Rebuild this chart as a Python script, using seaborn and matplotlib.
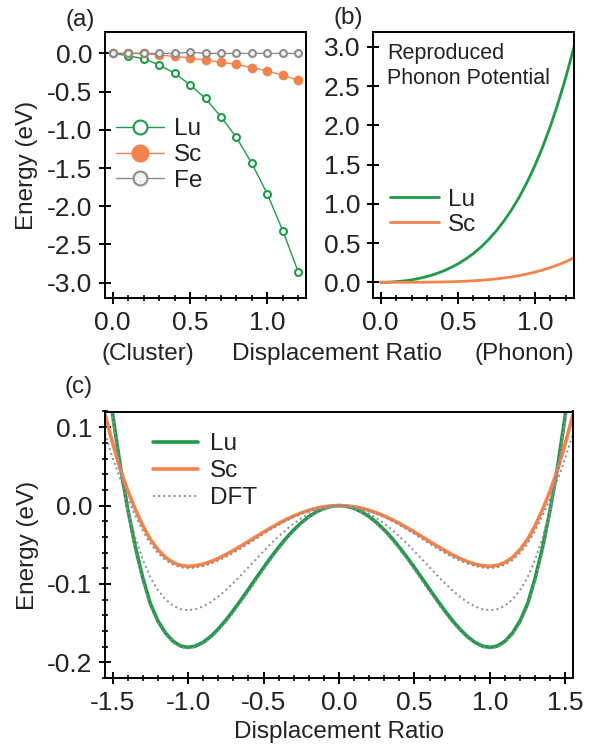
import numpy as np
import pandas as pd
import matplotlib
matplotlib.use('Agg')
import matplotlib.pyplot as plt
from matplotlib.ticker import MultipleLocator
import seaborn as sns

# %% data
# (a) cluster energies vs displacement ratio
x_a = [0.0, 0.1, 0.2, 0.3, 0.4, 0.5, 0.6, 0.7, 0.8, 0.9, 1.0, 1.1, 1.2]
lu_a = [0.0, -0.03, -0.07, -0.15, -0.26, -0.41, -0.59, -0.83, -1.10, -1.44, -1.84, -2.32, -2.86]
sc_a = [0.0, 0.0, 0.0, -0.02, -0.04, -0.06, -0.09, -0.115, -0.145, -0.185, -0.23, -0.285, -0.35]
fe_a = [0.0, 0.0, 0.0, 0.0, 0.0, 0.015, 0.0, 0.0, 0.0, 0.0, 0.0, 0.0, 0.0]

# (b) reproduced phonon potential
x_b = [0.0, 0.05, 0.1, 0.15, 0.2, 0.25, 0.3, 0.35, 0.4, 0.45, 0.5, 0.55, 0.6, 0.65,
       0.7, 0.75, 0.8, 0.85, 0.9, 0.95, 1.0, 1.05, 1.1, 1.15, 1.2, 1.25, 1.27]
lu_b = [0.0, 0.002, 0.008, 0.017, 0.031, 0.050, 0.074, 0.103, 0.139, 0.183, 0.234, 0.295,
        0.366, 0.449, 0.546, 0.657, 0.784, 0.929, 1.093, 1.280, 1.490, 1.726, 1.990, 2.286,
        2.613, 2.977, 3.14]
sc_b = [0.0, 0.0, 0.0002, 0.0003, 0.0006, 0.0011, 0.0019, 0.003, 0.0047, 0.0069, 0.010,
        0.014, 0.0192, 0.0256, 0.0337, 0.0436, 0.0556, 0.0698, 0.0868, 0.1067, 0.130,
        0.157, 0.188, 0.223, 0.263, 0.309, 0.328]

# (c) double-well potential, x >= 0 half (the curves are symmetric)
x_c = [0.0, 0.05, 0.1, 0.15, 0.2, 0.25, 0.3, 0.35, 0.4, 0.45, 0.5, 0.55, 0.6, 0.65,
       0.7, 0.75, 0.8, 0.85, 0.9, 0.95, 1.0, 1.05, 1.1, 1.15, 1.2, 1.25, 1.3, 1.35,
       1.4, 1.45, 1.5, 1.55]
lu_c = [0.0, -0.0009, -0.0036, -0.0081, -0.0142, -0.0219, -0.0311, -0.0416, -0.0533,
        -0.0659, -0.0792, -0.0929, -0.1069, -0.1206, -0.1339, -0.1464, -0.1575, -0.1671,
        -0.1745, -0.1793, -0.181, -0.1791, -0.1730, -0.1625, -0.1470, -0.1250, -0.0920,
        -0.0520, -0.0040, 0.052, 0.117, 0.19]
sc_c = [0.0, -0.0004, -0.0015, -0.0034, -0.0061, -0.0094, -0.0133, -0.0178, -0.0228,
        -0.0282, -0.0339, -0.0398, -0.0458, -0.0517, -0.0573, -0.0627, -0.0675, -0.0715,
        -0.0747, -0.0768, -0.0775, -0.0763, -0.0725, -0.0660, -0.0560, -0.0430, -0.0255,
        -0.0045, 0.0195, 0.047, 0.080, 0.116]
dft_lu_c = [0.0, -0.0011, -0.0042, -0.0090, -0.0155, -0.0235, -0.0330, -0.0438, -0.0558,
            -0.0687, -0.0822, -0.0960, -0.1100, -0.1236, -0.1367, -0.1489, -0.1597, -0.1690,
            -0.1760, -0.1805, -0.1822, -0.1805, -0.1748, -0.1648, -0.1498, -0.1285, -0.0960,
            -0.0565, -0.0085, 0.047, 0.112, 0.185]
dft_mid_c = [0.0, -0.0007, -0.0027, -0.0059, -0.0105, -0.0162, -0.0229, -0.0307, -0.0393,
             -0.0486, -0.0584, -0.0686, -0.0788, -0.0890, -0.0988, -0.1079, -0.1162, -0.1232,
             -0.1287, -0.1322, -0.1335, -0.1321, -0.1276, -0.1196, -0.1077, -0.0913, -0.0690,
             -0.0400, -0.0040, 0.045, 0.108, 0.18]
dft_sc_c = [0.0, -0.0005, -0.0018, -0.0039, -0.0068, -0.0104, -0.0146, -0.0194, -0.0247,
            -0.0304, -0.0364, -0.0426, -0.0488, -0.0548, -0.0605, -0.0657, -0.0704, -0.0742,
            -0.0773, -0.0792, -0.0799, -0.0789, -0.0754, -0.0695, -0.0606, -0.0485, -0.0320,
            -0.0125, 0.0095, 0.034, 0.061, 0.092]

green = '#1e9a48'
orange = '#f3834c'
gray = '#8c8c8c'
fs = 17.5   # text size
ts = 19     # tick label size


def mirror(x, y):
    """full symmetric curve from the x >= 0 half"""
    xs = np.concatenate([-np.array(x[:0:-1]), np.array(x)])
    ys = np.concatenate([np.array(y[:0:-1]), np.array(y)])
    return xs, ys


def style_axis(ax, xpad=5):
    for sp in ax.spines.values():
        sp.set_linewidth(1.4)
        sp.set_color('black')
    ax.tick_params(which='major', direction='inout', length=8, width=1.4,
                   labelsize=ts, top=False, right=False, pad=5)
    ax.tick_params(axis='x', which='major', pad=xpad)
    ax.tick_params(which='minor', direction='inout', length=5, width=1.2,
                   top=False, right=False)


# %% setup
sns.set_style('ticks')
plt.rcParams['font.family'] = ['Liberation Sans', 'DejaVu Sans']
plt.rcParams['axes.unicode_minus'] = False
plt.rcParams['text.color'] = '#222222'
plt.rcParams['xtick.color'] = 'black'
plt.rcParams['ytick.color'] = 'black'
plt.rcParams['xtick.labelcolor'] = '#222222'
plt.rcParams['ytick.labelcolor'] = '#222222'

fig = plt.figure(figsize=(5.94, 7.44), dpi=100)
W, H = 594, 744
ax_a = fig.add_axes([105 / W, 1 - 298 / H, 201 / W, 266 / H])
ax_b = fig.add_axes([373 / W, 1 - 298 / H, 201 / W, 266 / H])
ax_c = fig.add_axes([105 / W, 1 - 678 / H, 468 / W, 266.5 / H])

# %% panel (a)
df_a = pd.DataFrame({'x': x_a, 'Lu': lu_a, 'Sc': sc_a, 'Fe': fe_a})
sns.lineplot(data=df_a, x='x', y='Lu', ax=ax_a, color=green, lw=1.0, marker='o',
             markersize=5, markerfacecolor='white', markeredgecolor=green,
             markeredgewidth=1.5, label='Lu')
sns.lineplot(data=df_a, x='x', y='Sc', ax=ax_a, color=orange, lw=1.0, marker='o',
             markersize=6, markerfacecolor=orange, markeredgecolor=orange,
             markeredgewidth=1.0, label='Sc')
sns.lineplot(data=df_a, x='x', y='Fe', ax=ax_a, color=gray, lw=1.0, marker='o',
             markersize=5, markerfacecolor='#f2f2f2', markeredgecolor=gray,
             markeredgewidth=1.5, label='Fe')
ax_a.set(xlim=(-0.05, 1.25), ylim=(-3.2, 0.28), xlabel='', ylabel='')
ax_a.xaxis.set_major_locator(MultipleLocator(0.5))
ax_a.xaxis.set_minor_locator(MultipleLocator(0.1))
ax_a.yaxis.set_major_locator(MultipleLocator(0.5))
style_axis(ax_a)
ax_a.legend(loc='upper left', bbox_to_anchor=(-0.02, 0.73), frameon=False, fontsize=fs,
            markerscale=2.0, handlelength=2.0, handletextpad=0.4, labelspacing=0.15,
            borderaxespad=0.2)

# %% panel (b)
df_b = pd.DataFrame({'x': x_b, 'Lu': lu_b, 'Sc': sc_b})
sns.lineplot(data=df_b, x='x', y='Lu', ax=ax_b, color=green, lw=2.0, label='Lu')
sns.lineplot(data=df_b, x='x', y='Sc', ax=ax_b, color=orange, lw=2.0, label='Sc')
ax_b.set(xlim=(-0.05, 1.253), ylim=(-0.2, 3.19), xlabel='', ylabel='')
ax_b.xaxis.set_major_locator(MultipleLocator(0.5))
ax_b.xaxis.set_minor_locator(MultipleLocator(0.1))
ax_b.yaxis.set_major_locator(MultipleLocator(0.5))
style_axis(ax_b)
ax_b.legend(loc='upper left', bbox_to_anchor=(0.0, 0.475), frameon=False, fontsize=fs,
            handlelength=2.0, handletextpad=0.4, labelspacing=0.12, borderaxespad=0.3)
ax_b.text(0.07, 0.872, 'Reproduced\nPhonon Potential', transform=ax_b.transAxes,
          ha='left', va='center', fontsize=15.5, linespacing=1.3)

# %% panel (c)
xs, ys = mirror(x_c, lu_c)
df_c = pd.DataFrame({'x': xs, 'Lu': ys})
for name, vals in [('Sc', sc_c), ('DFT_Lu', dft_lu_c), ('DFT_mid', dft_mid_c),
                   ('DFT_Sc', dft_sc_c)]:
    df_c[name] = mirror(x_c, vals)[1]
sns.lineplot(data=df_c, x='x', y='Lu', ax=ax_c, color=green, lw=2.6, label='Lu')
sns.lineplot(data=df_c, x='x', y='Sc', ax=ax_c, color=orange, lw=2.6, label='Sc')
sns.lineplot(data=df_c, x='x', y='DFT_Lu', ax=ax_c, color=gray, lw=1.4, ls=':', label='DFT')
sns.lineplot(data=df_c, x='x', y='DFT_mid', ax=ax_c, color=gray, lw=1.4, ls=':', legend=False)
sns.lineplot(data=df_c, x='x', y='DFT_Sc', ax=ax_c, color=gray, lw=1.4, ls=':', legend=False)
ax_c.set(xlim=(-1.55, 1.55), ylim=(-0.22, 0.12), xlabel='', ylabel='')
ax_c.xaxis.set_major_locator(MultipleLocator(0.5))
ax_c.xaxis.set_minor_locator(MultipleLocator(0.1))
ax_c.yaxis.set_major_locator(MultipleLocator(0.1))
ax_c.yaxis.set_minor_locator(MultipleLocator(0.02))
style_axis(ax_c, xpad=5)
ax_c.legend(loc='upper left', bbox_to_anchor=(0.055, 1.0), frameon=False, fontsize=fs,
            handlelength=1.85, handletextpad=0.5, labelspacing=0.2)

# %% labels
fig.text(80 / W, 1 - 20 / H, '(a)', fontsize=fs, ha='center', va='center')
fig.text(348 / W, 1 - 18 / H, '(b)', fontsize=fs, ha='center', va='center')
fig.text(79 / W, 1 - 387 / H, '(c)', fontsize=fs, ha='center', va='center')
fig.text(27 / W, 1 - 165 / H, 'Energy (eV)', fontsize=fs, rotation=90, ha='center', va='center')
fig.text(28 / W, 1 - 545 / H, 'Energy (eV)', fontsize=fs, rotation=90, ha='center', va='center')
fig.text(148 / W, 1 - 354 / H, '(Cluster)', fontsize=fs, ha='center', va='center')
fig.text(337 / W, 1 - 354 / H, 'Displacement Ratio', fontsize=fs, ha='center', va='center')
fig.text(524 / W, 1 - 354 / H, '(Phonon)', fontsize=fs, ha='center', va='center')
fig.text(339 / W, 1 - 732 / H, 'Displacement Ratio', fontsize=fs, ha='center', va='center')

plt.savefig('out.png', dpi=100)
plt.close()
